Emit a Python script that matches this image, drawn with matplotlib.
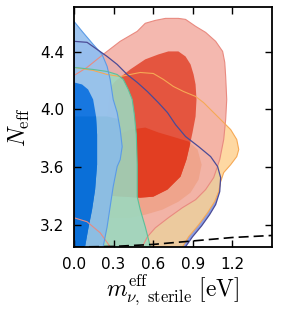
import matplotlib
matplotlib.use('Agg')
import matplotlib.pyplot as plt
from matplotlib.patches import Polygon
import numpy as np

plt.rcParams['mathtext.fontset'] = 'cm'

# contour outlines (m_eff [eV], N_eff)
navy95_m = [0.0, 0.099, 0.175, 0.251, 0.327, 0.403, 0.479, 0.556, 0.639, 0.708, 0.769, 0.845, 0.944, 1.035,
            1.088, 1.111, 1.104, 1.073, 1.027, 0.967, 0.898, 0.845, 0.830, 0.0]
navy95_n = [4.472, 4.465, 4.416, 4.367, 4.312, 4.242, 4.187, 4.124, 4.047, 3.978, 3.895, 3.812, 3.742, 3.673,
            3.604, 3.527, 3.430, 3.340, 3.270, 3.193, 3.117, 3.048, 3.013, 3.013]

orange95_m = [0.0, 0.145, 0.251, 0.350, 0.426, 0.502, 0.601, 0.677, 0.753, 0.830, 0.921, 0.982, 1.050, 1.126,
              1.187, 1.233, 1.248, 1.233, 1.187, 1.134, 1.111, 1.096, 1.065, 1.012, 0.944, 0.868, 0.822, 0.807, 0.0]
orange95_n = [4.291, 4.270, 4.242, 4.228, 4.242, 4.256, 4.249, 4.208, 4.159, 4.124, 4.090, 4.047, 3.985, 3.916,
              3.860, 3.791, 3.722, 3.673, 3.617, 3.562, 3.499, 3.430, 3.360, 3.284, 3.200, 3.117, 3.048, 3.013, 3.013]

red95_m = [0.0, 0.099, 0.221, 0.350, 0.479, 0.540, 0.616, 0.693, 0.791, 0.845, 0.921, 0.997, 1.073, 1.126,
           1.142, 1.149, 1.157, 1.149, 1.134, 1.104, 1.058, 0.997, 0.921, 0.822, 0.715, 0.616, 0.556, 0.518,
           0.502, 0.274, 0.274, 0.198, 0.099, 0.0]
red95_n = [4.235, 4.291, 4.381, 4.472, 4.541, 4.597, 4.617, 4.631, 4.631, 4.624, 4.576, 4.534, 4.472, 4.402,
           4.326, 4.228, 4.069, 3.930, 3.791, 3.652, 3.527, 3.444, 3.374, 3.319, 3.249, 3.179, 3.117, 3.048,
           3.013, 3.013, 3.048, 3.145, 3.221, 3.249]

red68_m = [0.259, 0.236, 0.274, 0.312, 0.350, 0.426, 0.540, 0.639, 0.715, 0.791, 0.845, 0.883, 0.906, 0.921,
           0.928, 0.921, 0.898, 0.875, 0.852, 0.807, 0.708, 0.601, 0.502]
red68_n = [3.402, 3.860, 4.152, 4.194, 4.222, 4.277, 4.347, 4.381, 4.402, 4.402, 4.367, 4.312, 4.242, 4.173,
           4.069, 3.951, 3.840, 3.742, 3.652, 3.534, 3.444, 3.395, 3.388]

orange68_m = [0.274, 0.259, 0.426, 0.540, 0.639, 0.769, 0.868, 0.936, 0.967, 0.944, 0.883, 0.791, 0.670, 0.540, 0.426]
orange68_n = [3.249, 3.791, 3.860, 3.874, 3.840, 3.805, 3.777, 3.722, 3.617, 3.513, 3.423, 3.360, 3.305, 3.270, 3.249]

green95_m = [0.0, 0.145, 0.251, 0.327, 0.373, 0.411, 0.441, 0.457, 0.472, 0.479, 0.479, 0.502, 0.540, 0.563,
             0.578, 0.586, 0.0]
green95_n = [4.291, 4.277, 4.263, 4.242, 4.208, 4.138, 4.069, 3.965, 3.826, 3.617, 3.395, 3.305, 3.186, 3.103,
             3.048, 3.013, 3.013]

green68_m = [0.0, 0.25, 0.35, 0.42, 0.42, 0.0]
green68_n = [3.951, 3.951, 3.930, 3.80, 3.0, 3.0]

blue95_m = [0.0, 0.068, 0.145, 0.213, 0.251, 0.274, 0.297, 0.327, 0.350, 0.365, 0.350, 0.327, 0.297, 0.274,
            0.251, 0.221, 0.205, 0.0]
blue95_n = [4.610, 4.534, 4.451, 4.381, 4.298, 4.208, 4.069, 3.978, 3.860, 3.742, 3.652, 3.604, 3.465, 3.326,
            3.186, 3.048, 3.013, 3.013]

blue68_m = [0.0, 0.061, 0.107, 0.145, 0.167, 0.175, 0.175, 0.160, 0.137, 0.107, 0.084, 0.076, 0.0]
blue68_n = [4.187, 4.173, 4.138, 4.069, 3.951, 3.826, 3.617, 3.444, 3.305, 3.166, 3.048, 3.013, 3.013]

sterile_m = [0.0, 0.3, 0.6, 0.9, 1.2, 1.5]
sterile_n = [3.046, 3.050, 3.064, 3.088, 3.112, 3.126]


def fill(ax, m, n, color, alpha=1.0, clip=None):
    p = Polygon(np.column_stack([m, n]), closed=True, facecolor=color, edgecolor='none', alpha=alpha)
    ax.add_patch(p)
    if clip is not None:
        p.set_clip_path(clip)
    return p


def edge(ax, m, n, color, lw=0.8):
    ax.plot(list(m) + [m[0]], list(n) + [n[0]], color=color, lw=lw)


fig = plt.figure(figsize=(2.81, 3.12), dpi=100)
ax = fig.add_axes([0.2633, 0.2083, 0.7047, 0.7693])

fill(ax, navy95_m, navy95_n, '#8c9ee2')
fill(ax, orange95_m, orange95_n, '#fed292', alpha=0.85)
fill(ax, red95_m, red95_n, '#f3b1a7', alpha=0.9)
fill(ax, orange68_m, orange68_n, '#efa48c')
r68 = fill(ax, red68_m, red68_n, '#e4553f')
fill(ax, orange68_m, orange68_n, '#e23e22', clip=r68)
fill(ax, green95_m, green95_n, '#9bd9bf', alpha=0.89)
b95 = fill(ax, blue95_m, blue95_n, '#98c1ef', alpha=0.92)
fill(ax, green68_m, green68_n, '#8cbde2', clip=b95)
b68 = fill(ax, blue68_m, blue68_n, '#1777e0')
fill(ax, green68_m, green68_n, '#0a6fd8', clip=b68)

edge(ax, red95_m, red95_n, '#e98a80')
edge(ax, orange95_m, orange95_n, '#f6a955')
edge(ax, green95_m, green95_n, '#5cc09a')
edge(ax, blue95_m, blue95_n, '#5b9be6')
edge(ax, navy95_m, navy95_n, '#4b4b96', lw=0.9)

ax.plot(sterile_m, sterile_n, color='black', lw=1.2, linestyle=(0, (6, 3)))

ax.set_xlim(0, 1.5)
ax.set_ylim(3.046, 4.71)
ax.set_xticks([0.0, 0.3, 0.6, 0.9, 1.2])
ax.set_yticks([3.2, 3.6, 4.0, 4.4])
ax.tick_params(direction='in', top=True, right=True, length=5, width=1, labelsize=11, pad=7)
for s in ax.spines.values():
    s.set_linewidth(1.3)

ax.set_xlabel(r'$m_{\nu,\ \rm sterile}^{\rm eff}\ [\rm eV]$', fontsize=17, labelpad=0)
ax.set_ylabel(r'$N_{\rm eff}$', fontsize=17, labelpad=6)

plt.savefig('out.png', dpi=100)
